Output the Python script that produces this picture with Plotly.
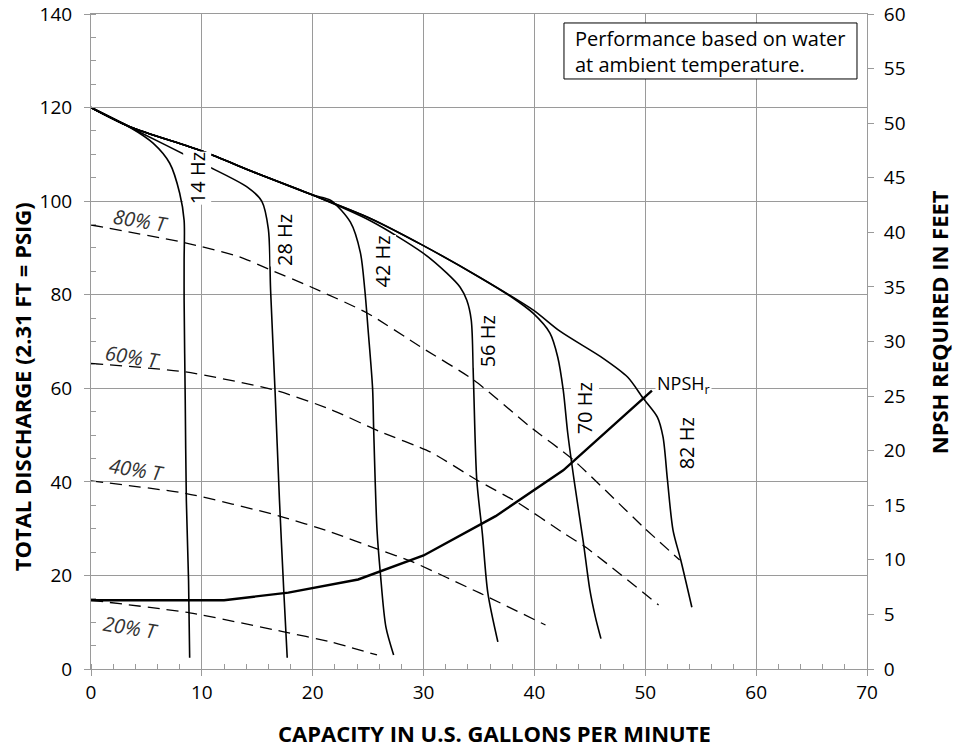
import plotly.graph_objects as go

# pump curves at each drive frequency (GPM, total discharge)
hz14_x = [0, 3.5, 5.6, 7.1, 8.0, 8.4, 8.4, 8.4, 8.5, 8.6, 8.8, 8.9]
hz14_y = [120, 115.8, 112.4, 108.1, 101.7, 95.9, 87.4, 78.8, 57.5, 36.1, 19.0, 2.4]

hz28_x = [0, 3.5, 10.0, 14.1, 15.4, 16.0, 16.2, 16.6, 17.0, 17.4, 17.7]
hz28_y = [120, 115.8, 108.1, 103.0, 100.0, 94.0, 81.0, 59.6, 36.1, 16.2, 2.4]

hz42_x = [0, 3.5, 10.0, 15.0, 20.0, 21.6, 23.4, 24.3, 24.7, 25.0, 25.4, 25.5, 25.8, 26.1, 26.6, 27.3]
hz42_y = [120, 115.9, 110.7, 105.9, 101.3, 100.2, 95.5, 89.0, 81.0, 72.4, 60.0, 51.1, 29.7, 20.5, 9.0, 3.0]

hz56_x = [0, 3.5, 10.0, 15.0, 20.0, 25.2, 29.9, 32.1, 33.3, 33.9, 34.3, 34.5, 34.8, 35.3, 35.8, 36.7]
hz56_y = [120, 115.9, 110.7, 105.9, 101.3, 95.8, 89.0, 84.6, 81.6, 78.8, 74.6, 61.8, 40.4, 29.0, 16.2, 5.8]

hz70_x = [0, 3.5, 10.0, 15.0, 20.0, 25.2, 29.9, 35.0, 38.0, 39.9, 41.4, 42.1, 42.6, 43.0, 43.6, 44.4, 45.0, 45.5, 46.0]
hz70_y = [120, 115.9, 110.7, 105.9, 101.3, 96.3, 90.6, 83.8, 79.4, 76.0, 71.8, 66.7, 59.6, 50.5, 40.0, 27.3, 16.9, 11.1, 6.5]

hz82_x = [0, 3.5, 10.0, 15.0, 20.0, 25.2, 29.9, 35.0, 39.9, 42.3, 46.2, 48.4, 49.8, 51.1, 51.6, 52.0, 52.5, 53.2, 54.2]
hz82_y = [120, 115.9, 110.7, 105.9, 101.3, 96.3, 90.6, 83.8, 76.7, 72.2, 66.4, 62.4, 57.9, 53.8, 49.6, 40.4, 29.7, 23.3, 13.2]

# NPSH required (feet, right axis)
npsh_x = [0, 12.0, 17.8, 24.1, 30.0, 36.5, 42.6, 50.6]
npsh_ft = [6.3, 6.3, 7.0, 8.2, 10.4, 14.0, 18.2, 25.5]

# % torque lines
t80_x = [0, 8.5, 13.4, 16.2, 19.8, 24.9, 29.7, 34.5, 39.6, 43.5, 49.8, 53.1]
t80_y = [94.9, 91.1, 88.1, 85.3, 81.7, 76.1, 68.9, 61.8, 51.8, 44.7, 30.4, 23.3]
t60_x = [0, 8.5, 16.6, 21.6, 26.0, 30.6, 34.8, 38.4, 42.6, 44.7, 51.2]
t60_y = [65.3, 63.5, 59.6, 55.5, 50.8, 46.4, 40.4, 35.7, 29.1, 25.9, 13.7]
t40_x = [0, 8.6, 17.0, 21.6, 26.1, 28.8, 35.1, 41.0]
t40_y = [40.2, 37.5, 32.7, 29.3, 25.4, 23.1, 16.2, 9.4]
t20_x = [0, 8.9, 17.3, 21.6, 25.8]
t20_y = [14.7, 12.0, 8.0, 5.8, 3.0]

hz_labels = ['14 Hz', '28 Hz', '42 Hz', '56 Hz', '70 Hz', '82 Hz']
hz_label_x = [9.6, 17.5, 26.3, 35.8, 44.6, 53.7]
hz_label_y = [105, 91.7, 87, 70, 55.8, 48.3]

t_labels = ['80% T', '60% T', '40% T', '20% T']
t_label_x = [4.5, 3.7, 4.1, 3.6]
t_label_y = [95.8, 66.8, 42.6, 8.8]

FONT = 'Open Sans'
GRID = '#9a9a9a'

fig = go.Figure()

for xs, ys in [(hz14_x, hz14_y), (hz28_x, hz28_y), (hz42_x, hz42_y),
               (hz56_x, hz56_y), (hz70_x, hz70_y), (hz82_x, hz82_y)]:
    fig.add_trace(go.Scatter(x=xs, y=ys, mode='lines',
                             line=dict(color='black', width=1.6, shape='spline', smoothing=0.8),
                             showlegend=False, hoverinfo='skip'))

for xs, ys in [(t80_x, t80_y), (t60_x, t60_y), (t40_x, t40_y), (t20_x, t20_y)]:
    fig.add_trace(go.Scatter(x=xs, y=ys, mode='lines',
                             line=dict(color='black', width=1.3, dash='12px,7px',
                                       shape='spline', smoothing=0.6),
                             showlegend=False, hoverinfo='skip'))

fig.add_trace(go.Scatter(x=npsh_x, y=npsh_ft, mode='lines', yaxis='y2',
                         line=dict(color='black', width=2.4),
                         showlegend=False, hoverinfo='skip'))

for txt, x, y in zip(hz_labels, hz_label_x, hz_label_y):
    fig.add_annotation(x=x, y=y, text=txt, textangle=-90, showarrow=False,
                       font=dict(family=FONT, size=20, color='black'),
                       bgcolor='white', borderpad=0)

for txt, x, y in zip(t_labels, t_label_x, t_label_y):
    fig.add_annotation(x=x, y=y, text='<i>' + txt + '</i>', textangle=9, showarrow=False,
                       font=dict(family=FONT, size=20, color='#333333'))

fig.add_annotation(x=50.9, y=60.8, text='NPSH<sub>r</sub>', showarrow=False,
                   xanchor='left', font=dict(family=FONT, size=18, color='black'),
                   bgcolor='white', borderpad=1)

# note box
fig.add_shape(type='rect', xref='paper', yref='paper', x0=0.6095, x1=0.9871,
              y0=0.9008, y1=0.9863, line=dict(color='black', width=1), fillcolor='white')
fig.add_annotation(xref='paper', yref='paper', x=0.6211, y=0.9435,
                   xanchor='left', yanchor='middle', align='left', showarrow=False,
                   text='Performance based on water<br>at ambient temperature.',
                   font=dict(family=FONT, size=20, color='black'))

# axis titles
title_font = dict(family=FONT, size=22, color='black')
fig.add_annotation(xref='paper', yref='paper', x=0.52, y=-0.098, yanchor='middle',
                   text='<b>CAPACITY IN U.S. GALLONS PER MINUTE</b>', showarrow=False,
                   font=title_font)
fig.add_annotation(xref='paper', yref='paper', x=-0.0889, y=0.43, xanchor='center',
                   text='<b>TOTAL DISCHARGE (2.31 FT = PSIG)</b>', textangle=-90,
                   showarrow=False, font=title_font)
fig.add_annotation(xref='paper', yref='paper', x=1.092, y=0.53, xanchor='center',
                   text='<b>NPSH REQUIRED IN FEET</b>', textangle=-90,
                   showarrow=False, font=title_font)

fig.update_layout(
    width=953, height=749,
    margin=dict(l=91, r=86, t=14, b=80),
    plot_bgcolor='white', paper_bgcolor='white',
    font=dict(family=FONT, size=19, color='black'),
    xaxis=dict(range=[0, 70], dtick=10, showgrid=True, gridcolor=GRID, gridwidth=1,
               showline=True, linecolor=GRID, mirror=True, zeroline=False,
               ticks='outside', ticklen=6, tickcolor=GRID, automargin=False,
               minor=dict(dtick=2, ticks='inside', ticklen=5, tickcolor=GRID, showgrid=False)),
    yaxis=dict(range=[0, 140], dtick=20, showgrid=True, gridcolor=GRID, gridwidth=1,
               showline=True, linecolor=GRID, zeroline=False,
               ticks='outside', ticklen=6, tickcolor=GRID, automargin=False,
               ticklabelstandoff=8,
               minor=dict(dtick=5, ticks='inside', ticklen=5, tickcolor=GRID, showgrid=False)),
    yaxis2=dict(range=[0, 60], dtick=5, overlaying='y', side='right', showgrid=False,
                showline=True, linecolor=GRID, zeroline=False,
                ticks='outside', ticklen=6, tickcolor=GRID, automargin=False,
                ticklabelstandoff=6),
)

# drop the default page margin so the figure sits at the window's corner
fig.write_html('out.html', config={'displayModeBar': False},
               post_script="document.body.style.margin='0px';")
